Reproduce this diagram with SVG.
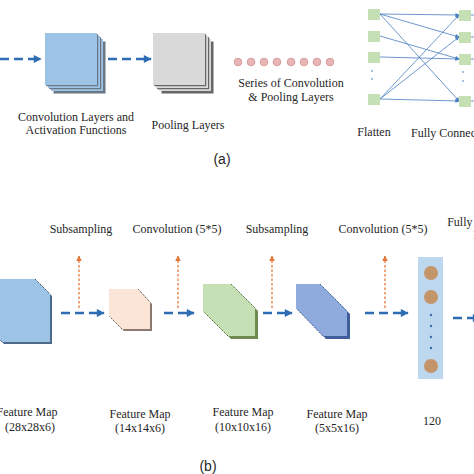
<svg xmlns="http://www.w3.org/2000/svg" width="474" height="474" viewBox="0 0 474 474">
<style>
.t{font-family:"Liberation Serif","Times New Roman",serif;font-size:12px;fill:#262626;text-anchor:middle}
.lab{font-family:"Liberation Sans",Arial,sans-serif;font-size:14px;fill:#262626;text-anchor:middle}
.ba{fill:none;stroke:#2E6DB4;stroke-width:2.4;stroke-dasharray:9,5;marker-end:url(#hb)}
.oa{fill:none;stroke:#E0783A;stroke-width:1.3;stroke-dasharray:2.5,2;marker-end:url(#ho)}
.fc{fill:none;stroke:#4A7EC0;stroke-width:0.8;marker-end:url(#hf)}
.sq{fill:#C5E0B4}
.pk{fill:#E8B6B6;stroke:#D08E8F;stroke-width:0.8}
.dot{fill:#3D6CA8}
.dg{fill:none;stroke-width:1;stroke-dasharray:2,1.5}
</style>
<defs>
<marker id="hb" viewBox="0 0 10 10" refX="9" refY="5" markerWidth="9" markerHeight="8" markerUnits="userSpaceOnUse" orient="auto"><path d="M0,0L10,5L0,10z" fill="#2E6DB4"/></marker>
<marker id="ho" viewBox="0 0 10 10" refX="9" refY="5" markerWidth="6" markerHeight="6" markerUnits="userSpaceOnUse" orient="auto"><path d="M0,0L10,5L0,10z" fill="#E0783A"/></marker>
<marker id="hf" viewBox="0 0 10 10" refX="9" refY="5" markerWidth="5" markerHeight="4" markerUnits="userSpaceOnUse" orient="auto"><path d="M0,0L10,5L0,10z" fill="#4A7EC0"/></marker>
</defs>
<rect width="474" height="474" fill="#fff"/>

<g id="connectors">
<line class="ba" x1="0" y1="59" x2="41" y2="59"/>
<line class="ba" x1="108" y1="59" x2="151" y2="59"/>
<line class="fc" x1="380" y1="14" x2="459" y2="15"/>
<line class="fc" x1="380" y1="14" x2="459" y2="37"/>
<line class="fc" x1="380" y1="14" x2="459" y2="101"/>
<line class="fc" x1="380" y1="36" x2="459" y2="59"/>
<line class="fc" x1="380" y1="57" x2="459" y2="59"/>
<line class="fc" x1="380" y1="99" x2="459" y2="15"/>
<line class="fc" x1="380" y1="99" x2="459" y2="37"/>
<line class="fc" x1="380" y1="99" x2="459" y2="101"/>
<line class="ba" x1="61" y1="313" x2="104" y2="313"/>
<line class="ba" x1="164" y1="313" x2="194" y2="313"/>
<line class="ba" x1="263" y1="313" x2="292" y2="313"/>
<line class="ba" x1="365" y1="313" x2="408" y2="313"/>
<line class="ba" x1="453" y1="318" x2="480" y2="318"/>
<line class="oa" x1="79" y1="308" x2="79" y2="256"/>
<line class="oa" x1="178" y1="308" x2="178" y2="256"/>
<line class="oa" x1="272" y1="308" x2="272" y2="256"/>
<line class="oa" x1="385" y1="308" x2="385" y2="256"/>
</g>

<g id="conv-a">
<rect x="53.5" y="41.5" width="52" height="52" fill="#6A7684"/><rect x="51" y="39" width="52" height="52" fill="#9DC3E6"/>
<rect x="49.2" y="37.2" width="52" height="52" fill="#6A7684"/><rect x="48" y="36" width="52" height="52" fill="#9DC3E6"/>
<rect x="46.2" y="34.2" width="52" height="52" fill="#6A7684"/><rect x="45" y="33" width="52" height="52" fill="#9DC3E6"/>
<text class="t" x="76" y="121">Convolution Layers and</text>
<text class="t" x="76" y="134">Activation Functions</text>
</g>

<g id="pool-a">
<rect x="161.5" y="41.5" width="52" height="52" fill="#666"/><rect x="159" y="39" width="52" height="52" fill="#D9D9D9"/>
<rect x="157.2" y="37.2" width="52" height="52" fill="#666"/><rect x="156" y="36" width="52" height="52" fill="#D9D9D9"/>
<rect x="154.2" y="34.2" width="52" height="52" fill="#666"/><rect x="153" y="33" width="52" height="52" fill="#D9D9D9"/>
<text class="t" x="188" y="129">Pooling Layers</text>
</g>

<g id="series-a">
<circle class="pk" cx="238" cy="62" r="3.8"/><circle class="pk" cx="251" cy="62" r="3.8"/>
<circle class="pk" cx="264" cy="62" r="3.8"/><circle class="pk" cx="277" cy="62" r="3.8"/>
<circle class="pk" cx="291" cy="62" r="3.8"/><circle class="pk" cx="304" cy="62" r="3.8"/>
<circle class="pk" cx="317" cy="62" r="3.8"/><circle class="pk" cx="330" cy="62" r="3.8"/>
<text class="t" x="291" y="87">Series of Convolution</text>
<text class="t" x="291" y="101">&amp; Pooling Layers</text>
</g>

<g id="flatten-a">
<rect class="sq" x="368" y="9" width="12" height="11"/>
<rect class="sq" x="368" y="31" width="12" height="11"/>
<rect class="sq" x="368" y="52" width="12" height="11"/>
<rect class="sq" x="368" y="94" width="12" height="11"/>
<circle class="dot" cx="372" cy="71" r="0.8"/><circle class="dot" cx="372" cy="79" r="0.8"/>
<text class="t" x="374" y="136">Flatten</text>
</g>

<g id="fc-a">
<rect class="sq" x="459" y="10" width="12" height="11"/>
<rect class="sq" x="459" y="32" width="12" height="11"/>
<rect class="sq" x="459" y="54" width="12" height="11"/>
<rect class="sq" x="459" y="96" width="12" height="11"/>
<path d="M471,15H474M471,37H474M471,59H474M471,101H474" stroke="#4A7EC0" stroke-width="0.8"/>
<circle class="dot" cx="463" cy="72" r="0.8"/><circle class="dot" cx="463" cy="81" r="0.8"/>
<text class="t" x="411" y="137" style="text-anchor:start">Fully Connected</text>
</g>

<text class="lab" x="222" y="164">(a)</text>

<g id="labels-b">
<text class="t" x="81" y="233">Subsampling</text>
<text class="t" x="177" y="233">Convolution (5*5)</text>
<text class="t" x="277" y="233">Subsampling</text>
<text class="t" x="383" y="233">Convolution (5*5)</text>
<text class="t" x="487" y="226">Fully Connected</text>
<text class="t" x="487" y="239">Layer</text>
</g>

<g id="fm28">
<polygon points="-11,281 37,281 52,296 52,344 4,344 -11,329" fill="#4E6A8A"/>
<polygon points="-13,279 35,279 50,294 50,342 2,342 -13,327" fill="#9DC3E6"/>
<path class="dg" d="M35,279L50,294M2,342L-13,327" stroke="#3E5878"/>
<text class="t" x="27" y="416">Feature Map</text>
<text class="t" x="30" y="431">(28x28x6)</text>
</g>

<g id="fm14">
<polygon points="111,291 140,291 152,304 152,331 124,331 111,318" fill="#8A7A70"/>
<polygon points="109,289 138,289 150,302 150,329 122,329 109,316" fill="#FBE5D6"/>
<path class="dg" d="M138,289L150,302M122,329L109,316" stroke="#6E625A"/>
<text class="t" x="140" y="418">Feature Map</text>
<text class="t" x="140" y="432">(14x14x6)</text>
</g>

<g id="fm10">
<polygon points="206,287 234,287 258,311 258,339 231,339 206,314" fill="#6E8A50"/>
<polygon points="203,284 231,284 255,308 255,336 228,336 203,311" fill="#C5E0B4"/>
<path class="dg" d="M231,284L255,308M228,336L203,311" stroke="#5A6E48"/>
<text class="t" x="243" y="416">Feature Map</text>
<text class="t" x="243" y="431">(10x10x16)</text>
</g>

<g id="fm5">
<polygon points="299,287 323,287 350,314 350,339 326,339 299,311" fill="#3F5E9A"/>
<polygon points="296,284 320,284 347,311 347,336 323,336 296,308" fill="#8FAADC"/>
<path class="dg" d="M320,284L347,311M323,336L296,308" stroke="#3F5E9A"/>
<text class="t" x="337" y="418">Feature Map</text>
<text class="t" x="337" y="432">(5x5x16)</text>
</g>

<g id="fc120">
<rect x="418" y="257" width="25" height="122" fill="#BDD7EE"/>
<circle cx="431" cy="273" r="7" fill="#C4956B"/>
<circle cx="431" cy="297" r="7" fill="#C4956B"/>
<circle cx="431" cy="366" r="7" fill="#C4956B"/>
<circle class="dot" cx="431" cy="315" r="1.2"/><circle class="dot" cx="431" cy="326" r="1.2"/>
<circle class="dot" cx="431" cy="337" r="1.2"/><circle class="dot" cx="431" cy="348" r="1.2"/>
<text class="t" x="432" y="425">120</text>
</g>

<text class="lab" x="208" y="471">(b)</text>
</svg>
